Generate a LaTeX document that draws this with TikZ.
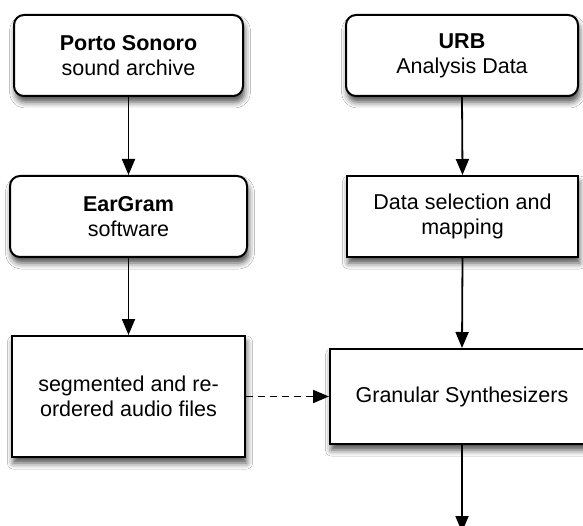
\documentclass[tikz,border=0pt]{standalone}
\usepackage{fontspec}
\setmainfont{Liberation Sans}
\usetikzlibrary{arrows.meta,shadows.blur}
\begin{document}
\begin{tikzpicture}[x=1pt,y=1pt,
  box/.style={draw=black, line width=2pt, fill=white, inner sep=0pt, align=center,
    font=\fontsize{21.5}{25}\selectfont,
    blur shadow={shadow xshift=1.5pt, shadow yshift=-6pt, shadow blur radius=6pt, shadow opacity=70}},
  rbox/.style={box, rounded corners=10pt},
  flow/.style={line width=1.8pt, draw=black, -{Triangle[length=16pt,width=13pt]}},
  dflow/.style={flow, dash pattern=on 7pt off 5pt}]
\useasboundingbox (0,0) rectangle (583,-526);
\clip (0,0) rectangle (583,-526);
\fill[white] (0,0) rectangle (583,-526);
\node[rbox, minimum width=229pt, minimum height=81pt] (porto) at (128.5,-55.5) {{\bfseries Porto Sonoro}\\sound archive};
\node[rbox, minimum width=232pt, minimum height=81pt] (urb) at (462,-55.5) {{\bfseries URB}\\Analysis Data};
\node[rbox, minimum width=237pt, minimum height=81pt] (ear) at (128.5,-216.5) {{\bfseries EarGram}\\software};
\node[box, minimum width=231pt, minimum height=81pt] (data) at (462.5,-216.5) {Data selection and\\mapping};
\node[box, minimum width=233pt, minimum height=121pt] (seg) at (128.5,-396.5) {segmented and re-\\ordered audio files};
\node[box, minimum width=264pt, minimum height=95pt] (gran) at (462,-396.5) {Granular Synthesizers};
\coordinate (out) at (462,-532);
\draw[flow] (porto.south) -- (ear.north);
\draw[flow] (ear.south) -- (seg.north);
\draw[flow] (urb.south) -- (data.north);
\draw[flow] (data.south) -- (gran.north);
\draw[dflow] (seg.east) -- (gran.west);
\draw[flow] (gran.south) -- (out);
\end{tikzpicture}
\end{document}
